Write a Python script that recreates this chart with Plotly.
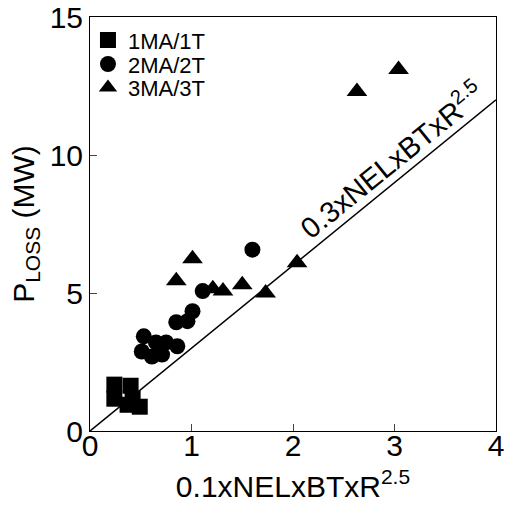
import plotly.graph_objects as go

# 1MA/1T
sq_x = [0.24, 0.40, 0.24, 0.42, 0.49, 0.37]
sq_y = [1.68, 1.64, 1.17, 1.17, 0.88, 0.95]
# 2MA/2T
ci_x = [1.01, 0.85, 0.96, 0.53, 0.51, 0.65, 0.75, 0.86, 0.61, 0.71, 1.11, 1.60]
ci_y = [4.34, 3.94, 3.98, 3.43, 2.88, 3.21, 3.21, 3.07, 2.70, 2.77, 5.07, 6.57]
# 3MA/3T
tr_x = [1.01, 0.85, 1.21, 1.31, 1.50, 1.73, 2.04, 2.63, 3.04]
tr_y = [6.24, 5.44, 5.15, 5.07, 5.30, 5.00, 6.10, 12.3, 13.1]

line_x = [0, 4]
slope = 3.0
line_y = [slope * v for v in line_x]

x_ticks = [0, 1, 2, 3, 4]
y_ticks = [0, 5, 10, 15]

FONT = "Liberation Sans"

fig = go.Figure()
fig.add_trace(go.Scatter(x=line_x, y=line_y, mode="lines",
                         line=dict(color="black", width=1.5), showlegend=False))
fig.add_trace(go.Scatter(x=sq_x, y=sq_y, mode="markers", name="1MA/1T", legend="legend",
                         marker=dict(symbol="square", size=16, color="black")))
fig.add_trace(go.Scatter(x=ci_x, y=ci_y, mode="markers", name="2MA/2T", legend="legend2",
                         marker=dict(symbol="circle", size=16, color="black")))
fig.add_trace(go.Scatter(x=tr_x, y=tr_y, mode="markers", name="3MA/3T", legend="legend3",
                         marker=dict(symbol="triangle-up", size=18, color="black")))

fig.add_annotation(x=2.97, y=9.85, text="0.3xNELxBTxR<sup>2.5</sup>",
                   showarrow=False, textangle=-39,
                   font=dict(family=FONT, size=29, color="black"))

leg_common = dict(x=-0.005, xanchor="left", yanchor="middle",
                  bgcolor="rgba(0,0,0,0)", font=dict(family=FONT, size=22, color="black"),
                  itemwidth=30)

fig.update_layout(
    width=505, height=505,
    margin=dict(l=90, r=9, t=17, b=74, autoexpand=False),
    paper_bgcolor="white", plot_bgcolor="white",
    font=dict(family=FONT, color="black"),
    showlegend=True,
    legend=dict(y=0.944, **leg_common),
    legend2=dict(y=0.886, **leg_common),
    legend3=dict(y=0.829, **leg_common),
)
fig.update_xaxes(range=[0, 4], tickvals=x_ticks, ticks="inside", ticklen=7,
                 showline=True, linecolor="black", linewidth=1, mirror=True,
                 showgrid=False, zeroline=False, automargin=False,
                 ticklabelstandoff=-12,
                 tickfont=dict(family=FONT, size=30),
                 title=dict(text="0.1xNELxBTxR<sup>2.5</sup>",
                            font=dict(family=FONT, size=30), standoff=14))
fig.update_yaxes(range=[0, 15], tickvals=y_ticks, ticks="inside", ticklen=7,
                 showline=True, linecolor="black", linewidth=1, mirror=True,
                 showgrid=False, zeroline=False, automargin=False,
                 tickfont=dict(family=FONT, size=30),
                 title=dict(text="P<sub>LOSS</sub> (MW)",
                            font=dict(family=FONT, size=30), standoff=6))

fig.write_html("out.html")
